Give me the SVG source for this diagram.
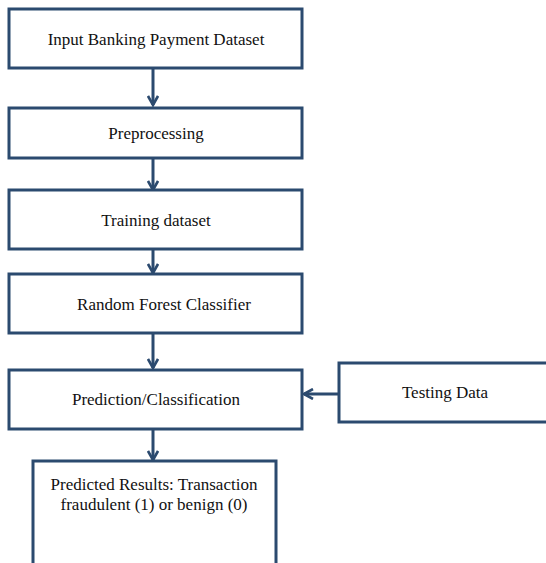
<svg xmlns="http://www.w3.org/2000/svg" width="546" height="563" viewBox="0 0 546 563">
<defs>
<style>
.box{fill:#fff;stroke:#2B4A6F;stroke-width:3}
.t{font-family:"Liberation Serif","Times New Roman",serif;font-size:17px;fill:#111;text-anchor:middle}
.c{stroke:#2B4A6F;stroke-width:3;fill:none}
</style>
<marker id="ah" viewBox="0 0 12 12" refX="10" refY="6" markerWidth="12" markerHeight="12" markerUnits="userSpaceOnUse" orient="auto">
<path d="M1,1 L10,6 L1,11" fill="none" stroke="#2B4A6F" stroke-width="2.6"/>
</marker>
</defs>
<rect width="546" height="563" fill="#fff"/>
<g id="connectors">
<line class="c" x1="153" y1="68" x2="153" y2="105" marker-end="url(#ah)"/>
<line class="c" x1="153" y1="158" x2="153" y2="190" marker-end="url(#ah)"/>
<line class="c" x1="153" y1="249" x2="153" y2="273" marker-end="url(#ah)"/>
<line class="c" x1="153" y1="333" x2="153" y2="368" marker-end="url(#ah)"/>
<line class="c" x1="339" y1="394" x2="304" y2="394" marker-end="url(#ah)"/>
<line class="c" x1="153" y1="429" x2="153" y2="460" marker-end="url(#ah)"/>
</g>
<g id="input"><rect class="box" x="9" y="9" width="293" height="59"/><text class="t" x="156" y="45">Input Banking Payment Dataset</text></g>
<g id="preprocessing"><rect class="box" x="9" y="108" width="293" height="50"/><text class="t" x="156" y="139">Preprocessing</text></g>
<g id="training"><rect class="box" x="9" y="190" width="293" height="59"/><text class="t" x="156" y="226">Training dataset</text></g>
<g id="rf"><rect class="box" x="9" y="274" width="293" height="59"/><text class="t" x="164" y="310">Random Forest Classifier</text></g>
<g id="prediction"><rect class="box" x="9" y="370" width="293" height="59"/><text class="t" x="156" y="405">Prediction/Classification</text></g>
<g id="testing"><rect class="box" x="339" y="363" width="212" height="59"/><text class="t" x="445" y="398">Testing Data</text></g>
<g id="results"><rect class="box" x="33" y="461" width="243" height="110"/><text class="t" x="154" y="490">Predicted Results: Transaction</text><text class="t" x="154" y="510">fraudulent (1) or benign (0)</text></g>
</svg>
